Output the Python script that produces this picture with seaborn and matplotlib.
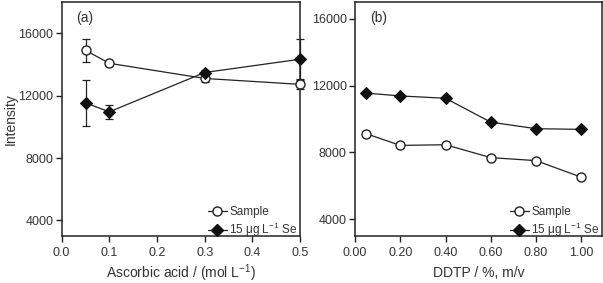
import numpy as np
import pandas as pd
import matplotlib
matplotlib.use('Agg')
import matplotlib.pyplot as plt
import seaborn as sns

# Panel (a): ascorbic acid
acid = [0.05, 0.1, 0.3, 0.5]
acid_sample = [14900, 14070, 13100, 12720]
acid_sample_err = [750, 150, 200, 280]
acid_se = [11530, 10960, 13480, 14330]
acid_se_err = [1500, 450, 150, 1270]

# Panel (b): DDTP
ddtp = [0.05, 0.2, 0.4, 0.6, 0.8, 1.0]
ddtp_sample = [9120, 8420, 8460, 7690, 7510, 6520]
ddtp_sample_err = [120, 120, 120, 120, 120, 120]
ddtp_se = [11550, 11380, 11240, 9810, 9420, 9380]
ddtp_se_err = [120, 120, 120, 120, 120, 120]

sample_label = 'Sample'
se_label = '15 μg L$^{-1}$ Se'

sns.set_style('ticks')
plt.rcParams['font.family'] = ['Liberation Sans', 'DejaVu Sans']
plt.rcParams['mathtext.fontset'] = 'custom'
plt.rcParams['mathtext.rm'] = 'Liberation Sans'
plt.rcParams['mathtext.it'] = 'Liberation Sans'
txt = '#333333'

fig = plt.figure(figsize=(6.03, 2.83), dpi=100)
ax1 = fig.add_axes([0.1023, 0.166, 0.3952, 0.827])
ax2 = fig.add_axes([0.5887, 0.166, 0.4091, 0.827])


def draw(ax, x, s, s_err, se, se_err):
    df = pd.DataFrame({'x': list(x) * 2, 'y': list(s) + list(se),
                       'series': [sample_label] * len(x) + [se_label] * len(x)})
    for yy, ee in [(s, s_err), (se, se_err)]:
        eb = ax.errorbar(x, yy, yerr=ee, fmt='none', ecolor='#222222', elinewidth=0.9,
                         capsize=3, capthick=0.9, zorder=2)
        for art in eb.lines[1] + eb.lines[2]:
            art.set_clip_on(False)
    sns.lineplot(data=df, x='x', y='y', hue='series', style='series',
                 palette=['#222222', '#222222'], markers=['o', 'D'], dashes=False,
                 linewidth=0.9, markersize=6.5, ax=ax, legend=False, zorder=3)
    for ln in ax.get_lines():
        ln.set_clip_on(False)
        if ln.get_marker() == 'o':
            ln.set_markerfacecolor('white')
            ln.set_markeredgecolor('#222222')
            ln.set_markeredgewidth(1.0)
        elif ln.get_marker() == 'D':
            ln.set_markerfacecolor('#111111')
            ln.set_markeredgecolor('#111111')
            ln.set_markersize(6)
    h1 = plt.Line2D([], [], color='#222222', lw=0.9, marker='o', markersize=6.5,
                    markerfacecolor='white', markeredgecolor='#222222')
    h2 = plt.Line2D([], [], color='#222222', lw=0.9, marker='D', markersize=6,
                    markerfacecolor='#111111', markeredgecolor='#111111')
    ax.legend([h1, h2], [sample_label, se_label], loc='lower right', frameon=False,
              fontsize=8.5, handlelength=1.6, handletextpad=0.2, labelspacing=0.25,
              borderaxespad=0.0, bbox_to_anchor=(1.01, -0.035), labelcolor=txt)
    for sp in ax.spines.values():
        sp.set_visible(True)
        sp.set_linewidth(1.1)
        sp.set_color('#222222')
    ax.tick_params(direction='out', length=4, width=1, pad=2, colors='#222222',
                   labelcolor=txt, labelsize=9)
    ax.tick_params(axis='x', pad=4)
    ax.set_ylabel('')


draw(ax1, acid, acid_sample, acid_sample_err, acid_se, acid_se_err)
ax1.set_xlim(0, 0.5)
ax1.set_ylim(3000, 18000)
ax1.set_xticks([0.0, 0.1, 0.2, 0.3, 0.4, 0.5])
ax1.set_xticklabels(['0.0', '0.1', '0.2', '0.3', '0.4', '0.5'])
ax1.set_yticks([4000, 8000, 12000, 16000])
ax1.set_xlabel('Ascorbic acid / (mol L$^{-1}$)', fontsize=10, color=txt, va='center')
ax1.xaxis.set_label_coords(0.5, -0.16)
ax1.set_ylabel('Intensity', fontsize=10, color=txt, va='center')
ax1.yaxis.set_label_coords(-0.215, 0.5)
ax1.text(0.06, 0.93, '(a)', transform=ax1.transAxes, fontsize=10, color=txt, va='center')

draw(ax2, ddtp, ddtp_sample, ddtp_sample_err, ddtp_se, ddtp_se_err)
ax2.set_xlim(0, 1.09)
ax2.set_ylim(3000, 17000)
ax2.set_xticks([0.0, 0.2, 0.4, 0.6, 0.8, 1.0])
ax2.set_xticklabels(['0.00', '0.20', '0.40', '0.60', '0.80', '1.00'])
ax2.set_yticks([4000, 8000, 12000, 16000])
ax2.set_xlabel('DDTP / %, m/v', fontsize=10, color=txt, va='center')
ax2.xaxis.set_label_coords(0.5, -0.16)
ax2.text(0.06, 0.93, '(b)', transform=ax2.transAxes, fontsize=10, color=txt, va='center')

plt.savefig('out.png', dpi=100)
